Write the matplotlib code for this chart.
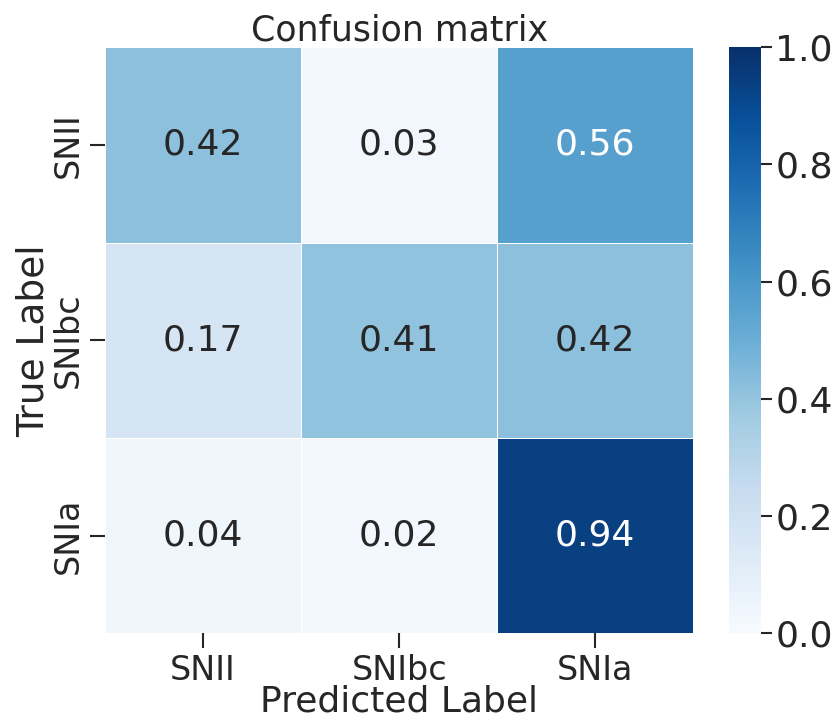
import numpy as np
import seaborn as sns
from matplotlib import pyplot as plt

# class names and normalised confusion matrix (rows = true, cols = predicted)
classes = ["SNII", "SNIbc", "SNIa"]
row_snii = [0.42, 0.03, 0.56]
row_snibc = [0.17, 0.41, 0.42]
row_snia = [0.04, 0.02, 0.94]
cbar_ticks = [0.0, 0.2, 0.4, 0.6, 0.8, 1.0]

cm = np.array([row_snii, row_snibc, row_snia])

sns.set_theme(style="ticks", font_scale=2.0)
plt.rcParams['font.family'] = ['DejaVu Sans']

fig = plt.figure(figsize=(8.34, 7.27), dpi=100)
ax = fig.add_axes([0.126, 0.129, 0.705, 0.806])
cax = fig.add_axes([0.874, 0.129, 0.039, 0.806])

sns.heatmap(cm, annot=True, fmt=".2f", cmap="Blues", vmin=0, vmax=1,
            linewidths=0.5, linecolor="white", square=False,
            xticklabels=classes, yticklabels=classes,
            ax=ax, cbar_ax=cax, annot_kws={"size": 26})

cax.set_yticks(cbar_ticks)
cax.set_yticklabels(["%.1f" % t for t in cbar_ticks])
cax.tick_params(length=8, width=1.5, labelsize=26, pad=2)
for s in cax.spines.values():
    s.set_visible(False)

ax.tick_params(axis="both", length=11, width=1.5, labelsize=24, pad=4)
ax.set_yticklabels(classes, rotation=90, va="center")
ax.set_xlabel("Predicted Label", fontsize=26, labelpad=-2)
ax.set_ylabel("True Label", fontsize=27, labelpad=0)
ax.set_title("Confusion matrix", fontsize=25, pad=3)

fig.savefig("out.png", dpi=100)
